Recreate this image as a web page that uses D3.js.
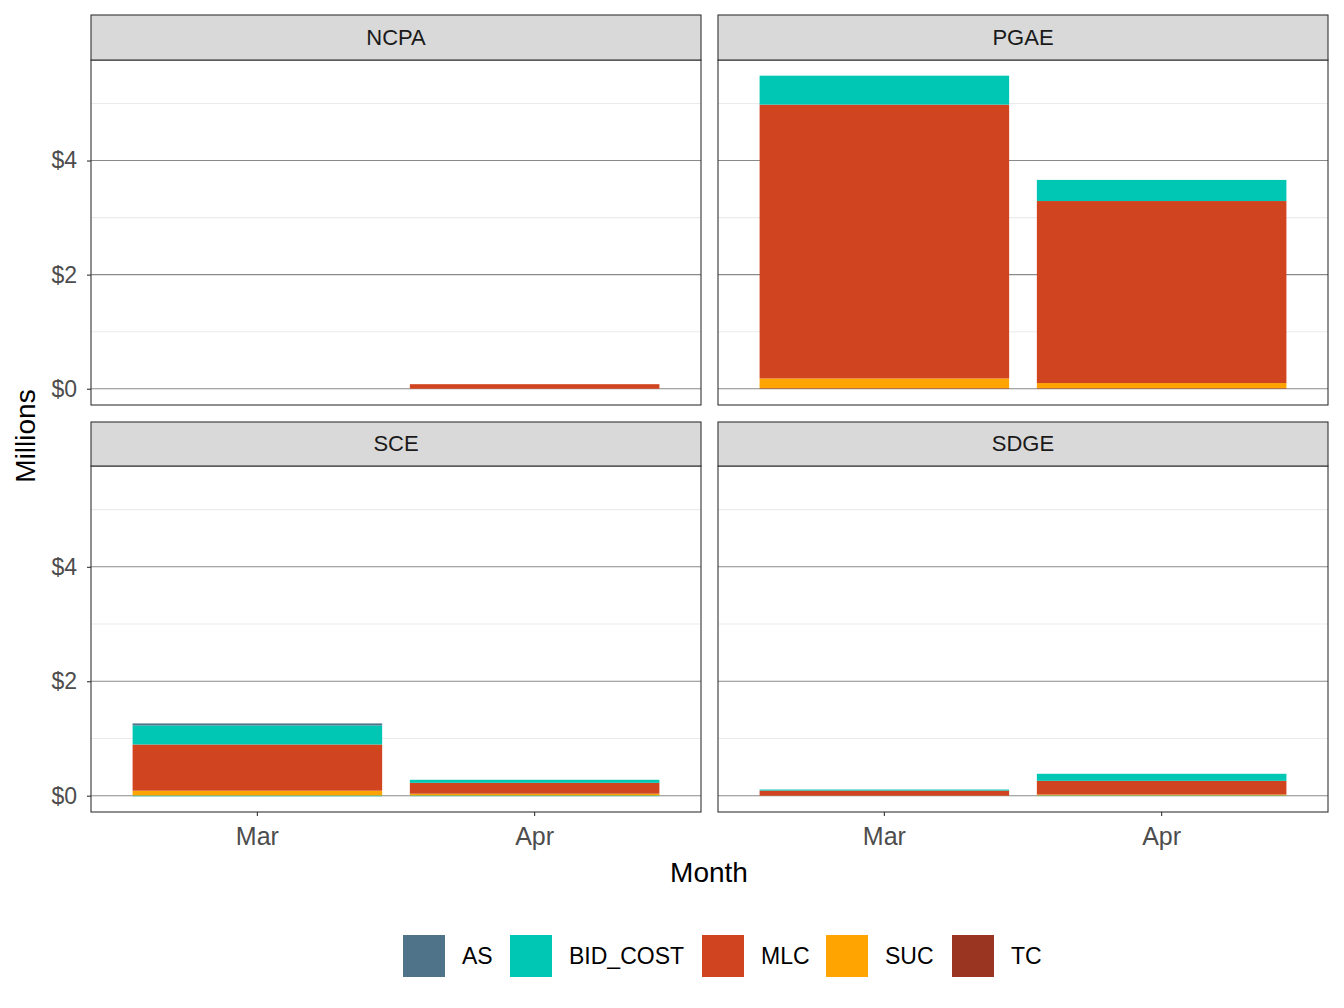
<!DOCTYPE html>
<html>
<head>
<meta charset="utf-8">
<script src="https://cdn.jsdelivr.net/npm/d3@7"></script>
<style>
  body { margin: 0; background: #fff; }
  text { font-family: "Liberation Sans", Arial, sans-serif; }
</style>
</head>
<body>
<div class="container"></div>
<script>
// panels and months, values in millions, index = panel * 2 + month
var panels = ["NCPA", "PGAE", "SCE", "SDGE"];
var months = ["Mar", "Apr"];
var types = ["AS", "BID_COST", "MLC", "SUC", "TC"];
var yTicks = [0, 2, 4];

var AS       = [0, 0,     0, 0,        0.035, 0,       0, 0];
var BID_COST = [0, 0,     0.507, 0.37, 0.333, 0.053,   0.018, 0.123];
var BID_NEG  = [0, 0,     0, 0,        -0.01, -0.008,  0, -0.006];
var MLC      = [0, 0.08,  4.80, 3.19,  0.807, 0.19,    0.09, 0.24];
var SUC      = [0, 0,     0.17, 0.09,  0.088, 0.035,   0, 0.02];
var TC       = [0, 0,     0.01, 0.01,  0, 0,           0, 0];

var colors = {AS: "#4F7389", BID_COST: "#00C7B3", MLC: "#D04520", SUC: "#FFA400", TC: "#9A3522", BID_NEG: "#00C7B3"};

const WIDTH = 1344;
const HEIGHT = 1008;

var translate = function(x, y){
	return "translate(" + x + "," + y + ")";
};

// panel layout
var colX = [[91, 701], [718, 1328]];
var rowY = [{strip: 15, top: 60, bottom: 405}, {strip: 422, top: 466, bottom: 812}];

var svg = d3.select('.container').append('svg')
	.attr('width', WIDTH)
	.attr('height', HEIGHT);

// rows for stacking
var rows = [];
panels.forEach(function(p, pi){
	months.forEach(function(m, mi){
		var i = pi * 2 + mi;
		rows.push({panel: p, month: m, AS: AS[i], BID_COST: BID_COST[i], MLC: MLC[i],
			SUC: SUC[i], TC: TC[i], BID_NEG: BID_NEG[i]});
	});
});

// bottom to top, as ggplot stacks the first level on top
var stackKeys = ["TC", "SUC", "MLC", "BID_COST", "AS", "BID_NEG"];
var series = d3.stack().keys(stackKeys).offset(d3.stackOffsetDiverging)(rows);

var yMin = d3.min(series, function(s){ return d3.min(s, function(d){ return d[0]; }); });
var yMax = d3.max(series, function(s){ return d3.max(s, function(d){ return d[1]; }); });
var pad = (yMax - yMin) * 0.05;

panels.forEach(function(p, pi){
	var col = pi % 2, row = Math.floor(pi / 2);
	var x0 = colX[col][0], x1 = colX[col][1];
	var r = rowY[row];

	var xScale = d3.scaleBand().domain(months).range([x0, x1])
		.paddingInner(0.1).paddingOuter(0.15);
	var yScale = d3.scaleLinear().domain([yMin - pad, yMax + pad]).range([r.bottom, r.top]);

	var g = svg.append('g');

	// minor grid
	var minor = [];
	for (var k = 0; k < yTicks.length; k++) minor.push(yTicks[k] + 1);
	g.selectAll('.minor').data(minor).enter().append('line')
		.attr('x1', x0).attr('x2', x1)
		.attr('y1', function(d){ return yScale(d); })
		.attr('y2', function(d){ return yScale(d); })
		.attr('stroke', '#ebebeb').attr('stroke-width', 1.1);

	// major grid
	g.selectAll('.major').data(yTicks).enter().append('line')
		.attr('x1', x0).attr('x2', x1)
		.attr('y1', function(d){ return yScale(d); })
		.attr('y2', function(d){ return yScale(d); })
		.attr('stroke', '#8a8a8a').attr('stroke-width', 1.1);

	// bars
	series.forEach(function(s){
		g.selectAll(null).data(s.filter(function(d){ return d.data.panel === p && d[1] !== d[0]; }))
			.enter().append('rect')
			.attr('x', function(d){ return xScale(d.data.month); })
			.attr('width', xScale.bandwidth())
			.attr('y', function(d){ return yScale(Math.max(d[0], d[1])); })
			.attr('height', function(d){ return Math.abs(yScale(d[0]) - yScale(d[1])); })
			.attr('fill', colors[s.key]);
	});

	// panel border
	g.append('rect')
		.attr('x', x0).attr('y', r.top)
		.attr('width', x1 - x0).attr('height', r.bottom - r.top)
		.attr('fill', 'none').attr('stroke', '#333').attr('stroke-width', 1.1);

	// strip
	g.append('rect')
		.attr('x', x0).attr('y', r.strip)
		.attr('width', x1 - x0).attr('height', r.top - r.strip)
		.attr('fill', '#d9d9d9').attr('stroke', '#333').attr('stroke-width', 1.1);
	g.append('text')
		.attr('x', (x0 + x1) / 2).attr('y', (r.strip + r.top) / 2 + 7)
		.attr('text-anchor', 'middle')
		.attr('font-size', 22).attr('fill', '#1a1a1a')
		.text(p);

	// y axis on left column
	if (col === 0) {
		var yAxis = d3.axisLeft(yScale).tickValues(yTicks)
			.tickSize(4).tickPadding(10)
			.tickFormat(function(d){ return "$" + d; });
		var ya = g.append('g').attr('transform', translate(x0, 0)).call(yAxis);
		ya.select('.domain').remove();
		ya.selectAll('.tick line').attr('stroke', '#333').attr('stroke-width', 1.1);
		ya.selectAll('.tick text').attr('font-size', 23).attr('fill', '#4d4d4d')
			.attr('font-family', '"Liberation Sans", Arial, sans-serif');
	}

	// x axis on bottom row
	if (row === 1) {
		var xAxis = d3.axisBottom(xScale).tickSize(4).tickPadding(11);
		var xa = g.append('g').attr('transform', translate(0, r.bottom)).call(xAxis);
		xa.select('.domain').remove();
		xa.selectAll('.tick line').attr('stroke', '#333').attr('stroke-width', 1.1);
		xa.selectAll('.tick text').attr('font-size', 25).attr('fill', '#4d4d4d')
			.attr('font-family', '"Liberation Sans", Arial, sans-serif');
	}
});

// axis titles
svg.append('text')
	.attr('x', 709).attr('y', 882)
	.attr('text-anchor', 'middle').attr('font-size', 28).attr('fill', '#000')
	.text('Month');
svg.append('text')
	.attr('transform', translate(35, 436) + ' rotate(-90)')
	.attr('text-anchor', 'middle').attr('font-size', 28).attr('fill', '#000')
	.text('Millions');

// legend
var legendX = [403, 510, 702, 826, 952];
var legend = svg.append('g');
types.forEach(function(t, i){
	legend.append('rect')
		.attr('x', legendX[i]).attr('y', 935)
		.attr('width', 42).attr('height', 42)
		.attr('fill', colors[t]);
	legend.append('text')
		.attr('x', legendX[i] + 59).attr('y', 964)
		.attr('font-size', 23).attr('fill', '#000')
		.text(t);
});
</script>
</body>
</html>
